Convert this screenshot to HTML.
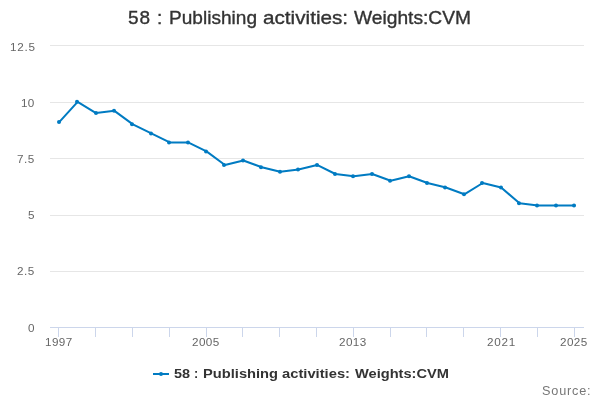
<!DOCTYPE html>
<html><head><meta charset="utf-8"><style>
html,body{margin:0;padding:0;background:#fff;overflow:hidden;}
svg{display:block;will-change:transform;font-family:"Liberation Sans", sans-serif;}
</style></head><body>
<svg width="600" height="400" viewBox="0 0 600 400">
<rect width="600" height="400" fill="#ffffff"/>
<rect x="50" y="45" width="534" height="1" fill="#e6e6e6"/><rect x="50" y="102" width="534" height="1" fill="#e6e6e6"/><rect x="50" y="158" width="534" height="1" fill="#e6e6e6"/><rect x="50" y="215" width="534" height="1" fill="#e6e6e6"/><rect x="50" y="271" width="534" height="1" fill="#e6e6e6"/>
<rect x="50" y="327" width="534" height="1" fill="#ccd6eb"/>
<rect x="58" y="327" width="1" height="10" fill="#ccd6eb"/><rect x="95" y="327" width="1" height="10" fill="#ccd6eb"/><rect x="132" y="327" width="1" height="10" fill="#ccd6eb"/><rect x="169" y="327" width="1" height="10" fill="#ccd6eb"/><rect x="206" y="327" width="1" height="10" fill="#ccd6eb"/><rect x="242" y="327" width="1" height="10" fill="#ccd6eb"/><rect x="279" y="327" width="1" height="10" fill="#ccd6eb"/><rect x="316" y="327" width="1" height="10" fill="#ccd6eb"/><rect x="353" y="327" width="1" height="10" fill="#ccd6eb"/><rect x="390" y="327" width="1" height="10" fill="#ccd6eb"/><rect x="426" y="327" width="1" height="10" fill="#ccd6eb"/><rect x="463" y="327" width="1" height="10" fill="#ccd6eb"/><rect x="500" y="327" width="1" height="10" fill="#ccd6eb"/><rect x="537" y="327" width="1" height="10" fill="#ccd6eb"/><rect x="574" y="327" width="1" height="10" fill="#ccd6eb"/>
<text x="128.00" y="24.00" font-size="19" fill="#333333" stroke="#333333" stroke-width="0.35" textLength="22.16" lengthAdjust="spacing">58</text>
<text x="157.00" y="24.00" font-size="19" fill="#333333" stroke="#333333" stroke-width="0.35">:</text>
<text x="169.00" y="24.00" font-size="19" fill="#333333" stroke="#333333" stroke-width="0.35" textLength="88.05" lengthAdjust="spacingAndGlyphs">Publishing</text>
<text x="263.00" y="24.00" font-size="19" fill="#333333" stroke="#333333" stroke-width="0.35" textLength="85.11" lengthAdjust="spacingAndGlyphs">activities:</text>
<text x="354.00" y="24.00" font-size="19" fill="#333333" stroke="#333333" stroke-width="0.35" textLength="117.01" lengthAdjust="spacingAndGlyphs">Weights:CVM</text>
<text x="10.00" y="51.00" font-size="11.7" fill="#666666" textLength="25.14" lengthAdjust="spacing">12.5</text>
<text x="21.00" y="107.00" font-size="11.7" fill="#666666" textLength="13.18" lengthAdjust="spacing">10</text>
<text x="17.00" y="163.00" font-size="11.7" fill="#666666" textLength="17.21" lengthAdjust="spacing">7.5</text>
<text x="28.00" y="219.00" font-size="11.7" fill="#666666" textLength="6.25" lengthAdjust="spacing">5</text>
<text x="17.00" y="275.00" font-size="11.7" fill="#666666" textLength="17.21" lengthAdjust="spacing">2.5</text>
<text x="28.00" y="332.00" font-size="11.7" fill="#666666" textLength="6.25" lengthAdjust="spacing">0</text>
<text x="45.00" y="346.00" font-size="11.7" fill="#666666" textLength="27.16" lengthAdjust="spacing">1997</text>
<text x="192.00" y="346.00" font-size="11.7" fill="#666666" textLength="27.16" lengthAdjust="spacing">2005</text>
<text x="339.00" y="346.00" font-size="11.7" fill="#666666" textLength="27.16" lengthAdjust="spacing">2013</text>
<text x="487.00" y="346.00" font-size="11.7" fill="#666666" textLength="28.25" lengthAdjust="spacing">2021</text>
<text x="560.00" y="346.00" font-size="11.7" fill="#666666" textLength="27.16" lengthAdjust="spacing">2025</text>
<text x="174.00" y="378.00" font-size="12.7" font-weight="bold" fill="#333333" textLength="16.07" lengthAdjust="spacingAndGlyphs">58</text>
<text x="194.00" y="378.00" font-size="12.7" font-weight="bold" fill="#333333">:</text>
<text x="203.00" y="378.00" font-size="12.7" font-weight="bold" fill="#333333" textLength="75.06" lengthAdjust="spacingAndGlyphs">Publishing</text>
<text x="282.00" y="378.00" font-size="12.7" font-weight="bold" fill="#333333" textLength="68.02" lengthAdjust="spacingAndGlyphs">activities:</text>
<text x="355.00" y="378.00" font-size="12.7" font-weight="bold" fill="#333333" textLength="94.01" lengthAdjust="spacingAndGlyphs">Weights:CVM</text>
<text x="542.00" y="395.00" font-size="12.7" fill="#777777" textLength="48.60" lengthAdjust="spacing">Source:</text>
<polyline points="59.21,122.10 77.62,101.80 96.03,113.08 114.45,110.82 132.86,124.36 151.28,133.38 169.69,142.41 188.10,142.41 206.52,151.43 224.93,164.97 243.34,160.46 261.76,167.22 280.17,171.74 298.59,169.48 317.00,164.97 335.41,173.99 353.83,176.25 372.24,173.99 390.66,180.76 409.07,176.25 427.48,183.02 445.90,187.53 464.31,194.30 482.72,183.02 501.14,187.53 519.55,203.32 537.97,205.58 556.38,205.58 574.79,205.58" fill="none" stroke="#007bc2" stroke-width="2" stroke-linejoin="round" stroke-linecap="round"/>
<circle cx="59.00" cy="122.10" r="2" fill="#007bc2"/><circle cx="77.00" cy="101.80" r="2" fill="#007bc2"/><circle cx="96.00" cy="113.08" r="2" fill="#007bc2"/><circle cx="114.00" cy="110.82" r="2" fill="#007bc2"/><circle cx="132.00" cy="124.36" r="2" fill="#007bc2"/><circle cx="151.00" cy="133.38" r="2" fill="#007bc2"/><circle cx="169.00" cy="142.41" r="2" fill="#007bc2"/><circle cx="188.00" cy="142.41" r="2" fill="#007bc2"/><circle cx="206.00" cy="151.43" r="2" fill="#007bc2"/><circle cx="224.00" cy="164.97" r="2" fill="#007bc2"/><circle cx="243.00" cy="160.46" r="2" fill="#007bc2"/><circle cx="261.00" cy="167.22" r="2" fill="#007bc2"/><circle cx="280.00" cy="171.74" r="2" fill="#007bc2"/><circle cx="298.00" cy="169.48" r="2" fill="#007bc2"/><circle cx="317.00" cy="164.97" r="2" fill="#007bc2"/><circle cx="335.00" cy="173.99" r="2" fill="#007bc2"/><circle cx="353.00" cy="176.25" r="2" fill="#007bc2"/><circle cx="372.00" cy="173.99" r="2" fill="#007bc2"/><circle cx="390.00" cy="180.76" r="2" fill="#007bc2"/><circle cx="409.00" cy="176.25" r="2" fill="#007bc2"/><circle cx="427.00" cy="183.02" r="2" fill="#007bc2"/><circle cx="445.00" cy="187.53" r="2" fill="#007bc2"/><circle cx="464.00" cy="194.30" r="2" fill="#007bc2"/><circle cx="482.00" cy="183.02" r="2" fill="#007bc2"/><circle cx="501.00" cy="187.53" r="2" fill="#007bc2"/><circle cx="519.00" cy="203.32" r="2" fill="#007bc2"/><circle cx="537.00" cy="205.58" r="2" fill="#007bc2"/><circle cx="556.00" cy="205.58" r="2" fill="#007bc2"/><circle cx="574.00" cy="205.58" r="2" fill="#007bc2"/>
<rect x="153" y="373" width="16" height="2" fill="#007bc2"/>
<circle cx="161" cy="374" r="2" fill="#007bc2"/>
</svg>
</body></html>
